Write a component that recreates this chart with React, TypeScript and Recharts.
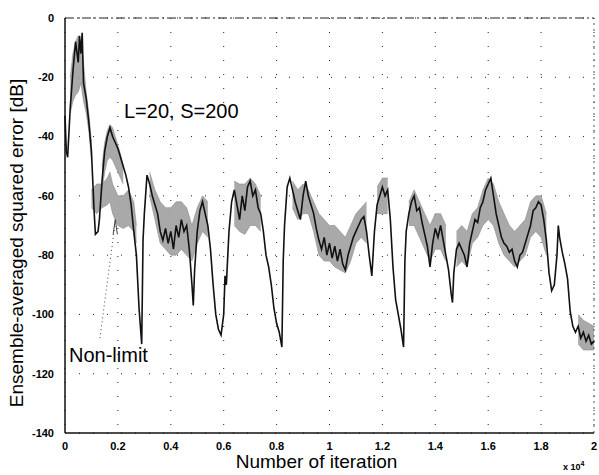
import React from "react"
import {
  ComposedChart,
  Line,
  Area,
  XAxis,
  YAxis,
  CartesianGrid,
  ReferenceLine,
} from "recharts"

// iteration axis is in units of 10^4
const xTicks = [0, 0.2, 0.4, 0.6, 0.8, 1, 1.2, 1.4, 1.6, 1.8, 2]
const yTicks = [-140, -120, -100, -80, -60, -40, -20, 0]

// black trace (L=20, S=200)
const mainX = [
  0, 0.005, 0.01, 0.02, 0.03, 0.04, 0.05, 0.055, 0.06, 0.065, 0.07, 0.08, 0.09, 0.1, 0.105, 0.11, 0.115, 0.125,
  0.13, 0.14, 0.15, 0.16, 0.17, 0.18, 0.19, 0.2, 0.21, 0.22, 0.23, 0.24, 0.25, 0.26, 0.27, 0.28, 0.29, 0.295,
  0.3, 0.31, 0.32, 0.33, 0.34, 0.35, 0.36, 0.37, 0.38, 0.39, 0.4, 0.41, 0.42, 0.43, 0.44, 0.45, 0.46, 0.47,
  0.48, 0.485, 0.49, 0.5, 0.51, 0.52, 0.53, 0.54, 0.55, 0.56, 0.57, 0.58, 0.59, 0.6, 0.605, 0.61, 0.62, 0.63,
  0.64, 0.65, 0.66, 0.67, 0.68, 0.69, 0.7, 0.71, 0.72, 0.73, 0.74, 0.75, 0.76, 0.77, 0.78, 0.79, 0.8, 0.81,
  0.82, 0.825, 0.83, 0.84, 0.85, 0.86, 0.87, 0.88, 0.89, 0.9, 0.91, 0.92, 0.93, 0.94, 0.95, 0.96, 0.97, 0.98,
  0.99, 1.0, 1.01, 1.02, 1.03, 1.04, 1.05, 1.06, 1.07, 1.08, 1.09, 1.1, 1.11, 1.12, 1.13, 1.14, 1.15, 1.16,
  1.17, 1.18, 1.19, 1.2, 1.21, 1.22, 1.23, 1.24, 1.25, 1.26, 1.27, 1.28, 1.285, 1.29, 1.3, 1.31, 1.32, 1.33,
  1.34, 1.35, 1.36, 1.37, 1.38, 1.39, 1.4, 1.41, 1.42, 1.43, 1.44, 1.45, 1.46, 1.465, 1.47, 1.48, 1.49, 1.5,
  1.51, 1.52, 1.53, 1.54, 1.55, 1.56, 1.57, 1.58, 1.59, 1.6, 1.61, 1.62, 1.63, 1.64, 1.65, 1.66, 1.67, 1.68,
  1.69, 1.7, 1.71, 1.72, 1.73, 1.74, 1.75, 1.76, 1.77, 1.78, 1.79, 1.8, 1.81, 1.82, 1.83, 1.84, 1.85, 1.86,
  1.865, 1.87, 1.88, 1.89, 1.9, 1.91, 1.92, 1.93, 1.94, 1.95, 1.96, 1.97, 1.98, 1.99, 2.0,
]
const mainY = [
  -33, -45, -47, -30, -18, -8, -15, -6, -12, -5, -22, -27, -35, -45, -55, -65, -73, -72,
  -68, -55, -45, -40, -37, -40, -42, -44, -47, -50, -53, -57, -63, -72, -80, -98, -110, -75,
  -66, -53, -56, -60, -63, -66, -72, -75, -71, -76, -72, -78, -70, -74, -68, -72, -70, -78,
  -90, -97, -85, -72, -65, -62, -66, -70, -78, -90, -100, -105, -107, -100, -87, -90, -72, -62,
  -58, -63, -68, -60, -65, -57, -55, -60, -58, -64, -66, -72, -80, -84, -90, -98, -103, -106,
  -111, -82, -70, -57, -54, -58, -62, -65, -68, -60, -55, -60, -63, -66, -71, -75, -78, -74,
  -80, -76, -81, -77, -82, -78, -83, -85, -80, -77, -74, -72, -70, -68, -67, -72, -80, -87,
  -72, -63, -60, -57, -60, -58, -68, -84, -95, -100, -105, -111, -82, -72, -66, -62, -60, -65,
  -64, -69, -73, -77, -84, -76, -71, -74, -70, -75, -80, -85, -93, -96, -86, -78, -76, -78,
  -80, -84, -76, -72, -68, -69, -64, -62, -58, -56, -54, -60, -66, -70, -74, -76, -77, -79,
  -78, -82, -84, -80, -79, -76, -73, -70, -65, -64, -62, -63, -68, -75, -86, -92, -90, -80,
  -70, -74, -79, -83, -88, -99, -104, -106, -104, -108, -106, -109, -107, -110, -109,
]

// grey noise band around the L=20, S=200 trace (null = no visible band)
const bandX = [
  0.02, 0.03, 0.04, 0.05, 0.06, 0.07, 0.08, 0.09, 0.1, 0.12, 0.14, 0.15, 0.16, 0.17, 0.18, 0.19, 0.2, 0.21,
  0.22, 0.26, 0.32, 0.34, 0.36, 0.38, 0.4, 0.42, 0.44, 0.46, 0.48, 0.5, 0.52, 0.54, 0.58, 0.64, 0.66, 0.68,
  0.7, 0.72, 0.74, 0.8, 0.86, 0.88, 0.9, 0.92, 0.94, 0.96, 0.98, 1.0, 1.02, 1.04, 1.06, 1.08, 1.1, 1.12,
  1.14, 1.16, 1.18, 1.2, 1.22, 1.26, 1.3, 1.32, 1.34, 1.36, 1.38, 1.4, 1.42, 1.44, 1.46, 1.48, 1.5, 1.52,
  1.54, 1.56, 1.58, 1.6, 1.62, 1.64, 1.66, 1.68, 1.7, 1.72, 1.74, 1.76, 1.78, 1.8, 1.82, 1.88, 1.94, 1.96,
  1.98, 2.0,
]
const bandHi = [
  -20, -12, -8, -6, -8, -15, -25, -32, -42, null, -50, -42, -38, -36, -37, -40, -43, -46,
  -50, null, -52, -58, -62, -64, -64, -62, -62, -64, -70, -64, -60, -62, null, -55, -56, -56,
  -54, -56, -60, null, -55, -58, -56, -58, -62, -66, -68, -70, -70, -72, -74, -70, -66, -64,
  -62, null, -57, -54, -54, null, -62, -58, -62, -66, -70, -66, -66, -70, null, -72, -70, -72,
  -66, -64, -58, -54, -56, -62, -66, -70, -72, -70, -68, -62, -60, -60, -66, null, -100, -102,
  -103, -104,
]
const bandLo = [
  -32, -28, -26, -25, -22, -28, -32, -38, -48, null, -58, -52, -48, -47, -48, -50, -52, -54,
  -56, null, -60, -68, -76, -78, -80, -80, -78, -80, -82, -76, -72, -74, null, -70, -72, -73,
  -70, -70, -72, null, -64, -68, -66, -66, -72, -80, -82, -82, -84, -85, -86, -82, -76, -74,
  -76, null, -66, -66, -66, null, -70, -70, -74, -78, -82, -78, -78, -82, null, -84, -82, -84,
  -76, -74, -70, -68, -70, -76, -80, -82, -84, -82, -80, -74, -72, -74, -80, null, -110, -112,
  -112, -112,
]

// grey Non-limit branch that separates from the main trace
const nlX = [0.1, 0.12, 0.14, 0.16, 0.17, 0.18, 0.2, 0.22, 0.24, 0.26, 0.27]
const nlHi = [-58, -56, -56, -54, -52, -56, -60, -60, -58, -62, -70]
const nlLo = [-64, -66, -64, -63, -62, -66, -70, -71, -70, -72, -76]

const mainData = mainX.map((x, i) => ({ x, y: mainY[i] }))
const bandData = bandX.map((x, i) => ({
  x,
  range: bandHi[i] == null ? null : [bandLo[i], bandHi[i]],
}))
const nlData = nlX.map((x, i) => ({ x, range: [nlLo[i], nlHi[i]] }))

const font = "'Liberation Sans', Arial, sans-serif"

export default function App() {
  return (
    <div style={{ position: "absolute", left: 0, top: 0, width: 599, height: 475, background: "#fff", fontFamily: font }}>
      <ComposedChart width={599} height={475} margin={{ top: 18, right: 5, bottom: 12, left: 20 }}>
        <CartesianGrid stroke="#222" strokeDasharray="1 13" />
        <XAxis
          dataKey="x"
          type="number"
          domain={[0, 2]}
          ticks={xTicks}
          height={30}
          tickFormatter={(v: number) => String(Number(v.toFixed(1)))}
          tickLine={false}
          axisLine={{ stroke: "#111", strokeWidth: 1.5 }}
          tick={{ fill: "#000", fontSize: 11, fontWeight: "bold", fontFamily: font }}
          tickMargin={3}
          allowDuplicatedCategory={false}
        />
        <YAxis
          type="number"
          domain={[-140, 0]}
          ticks={yTicks}
          width={45}
          tickLine={false}
          axisLine={{ stroke: "#111", strokeWidth: 1.5 }}
          tick={{ fill: "#000", fontSize: 11, fontWeight: "bold", fontFamily: font }}
          tickMargin={5}
        />
        <ReferenceLine y={0} stroke="#222" strokeWidth={1.2} strokeDasharray="9 3 2 3" />
        <ReferenceLine x={2} stroke="#555" strokeDasharray="2 4" />
        <Area
          data={bandData}
          dataKey="range"
          type="linear"
          stroke="#8a8a8a"
          strokeWidth={0.6}
          fill="#a0a0a0"
          fillOpacity={0.9}
          isAnimationActive={false}
          connectNulls={false}
        />
        <Area
          data={nlData}
          dataKey="range"
          type="linear"
          stroke="#8a8a8a"
          strokeWidth={0.6}
          fill="#a0a0a0"
          fillOpacity={0.9}
          isAnimationActive={false}
        />
        <Line
          data={mainData}
          dataKey="y"
          type="linear"
          stroke="#111"
          strokeWidth={1.6}
          dot={false}
          isAnimationActive={false}
        />
        {/* dotted arrow from the Non-limit label */}
        <ReferenceLine
          segment={[{ x: 0.132, y: -108 }, { x: 0.19, y: -69 }]}
          stroke="#444"
          strokeDasharray="1 3"
        />
        <ReferenceLine segment={[{ x: 0.19, y: -68 }, { x: 0.182, y: -73 }]} stroke="#444" />
        <ReferenceLine segment={[{ x: 0.19, y: -68 }, { x: 0.198, y: -73 }]} stroke="#444" />
      </ComposedChart>

      <div style={{ position: "absolute", left: 124, top: 100, fontSize: 20, color: "#000" }}>L=20, S=200</div>
      <div style={{ position: "absolute", left: 69, top: 344, fontSize: 20, color: "#000" }}>Non-limit</div>
      <div
        style={{
          position: "absolute",
          left: 0,
          width: 599,
          top: 453,
          lineHeight: "18px",
          textAlign: "center",
          fontSize: 19,
          color: "#000",
          paddingLeft: 34,
          boxSizing: "border-box",
        }}
      >
        Number of iteration
      </div>
      <div style={{ position: "absolute", left: 563, top: 460, fontSize: 9, fontWeight: "bold", color: "#000" }}>
        x 10<sup style={{ fontSize: 7 }}>4</sup>
      </div>
      <div
        style={{
          position: "absolute",
          left: 17,
          top: 243,
          transform: "translate(-50%, -50%) rotate(-90deg)",
          whiteSpace: "nowrap",
          fontSize: 19,
          color: "#000",
        }}
      >
        Ensemble-averaged squared error [dB]
      </div>
    </div>
  )
}
